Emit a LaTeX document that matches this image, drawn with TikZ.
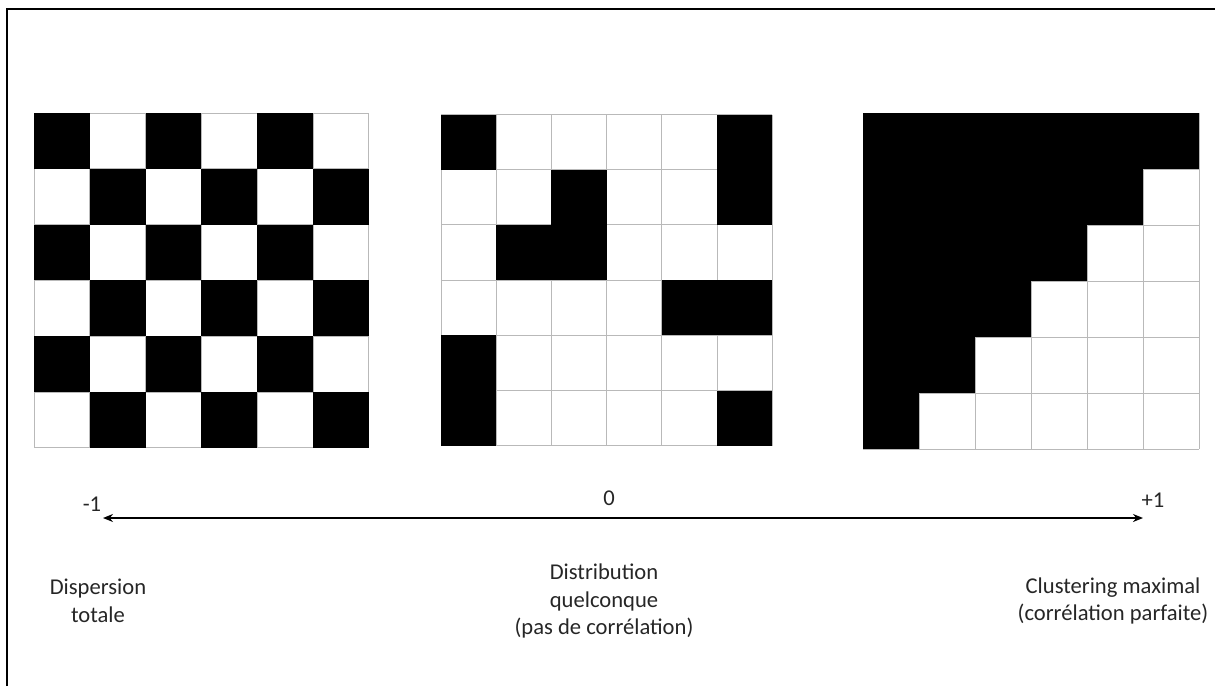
\documentclass[tikz,border=0pt]{standalone}
\usepackage{fontspec}
\setmainfont{Carlito}
\usetikzlibrary{arrows.meta}
\newcommand{\grille}[3]{\foreach \k in {0,...,6}{\draw[trait]({#1+\k*#3},#2)--({#1+\k*#3},{#2+6*#3});\draw[trait](#1,{#2+\k*#3})--({#1+6*#3},{#2+\k*#3});}}

\begin{document}
\begin{tikzpicture}[x=0.5pt,y=-0.5pt,
  trait/.style={gray!55,line width=0.5pt},
  lbl/.style={align=center,inner sep=0pt,text=black!85,font=\fontsize{11.3}{13.8}\selectfont}]
\useasboundingbox(0,0)rectangle(1215,686);
\draw[line width=1pt](7,686)--(7,9)--(1215,9);
% dispersion totale : damier
\grille{34}{113}{55.8}
\foreach \i in {1,...,6}\foreach \j in {1,...,6}{\pgfmathparse{int(mod(\i+\j,2))}
  \ifnum\pgfmathresult=0 \fill({34+(\i-1)*55.8},{113+(\j-1)*55.8})rectangle++(55.8,55.8);\fi}
% distribution quelconque
\grille{441}{114.5}{55.2}
\foreach \i/\j in {1/1,6/1,3/2,6/2,2/3,3/3,5/4,6/4,1/5,1/6,6/6}
  \fill({441+(\i-1)*55.2},{114.5+(\j-1)*55.2})rectangle++(55.2,55.2);
% clustering maximal
\grille{863}{113}{56}
\foreach \j in {1,...,6}{\pgfmathtruncatemacro{\n}{7-\j}
  \foreach \i in {1,...,\n}\fill({863+(\i-1)*56},{113+(\j-1)*56})rectangle++(56,56);}
% axe
\coordinate(gauche)at(103,518);\coordinate(droite)at(1143,518);
\draw[line width=1pt,{Stealth[length=5pt,width=4pt]}-{Stealth[length=5pt,width=4pt]}](gauche)--(droite);
\node[lbl](moins)at(92,504){-1};\node[lbl](zero)at(609,498){0};\node[lbl](plus)at(1153,500){+1};
\node[lbl](disp)at(98,601){Dispersion\\totale};
\node[lbl](dist)at(604,601){Distribution\\quelconque\\(pas de corrélation)};
\node[lbl](clus)at(1113,601){Clustering maximal\\(corrélation parfaite)};
\end{tikzpicture}
\end{document}
